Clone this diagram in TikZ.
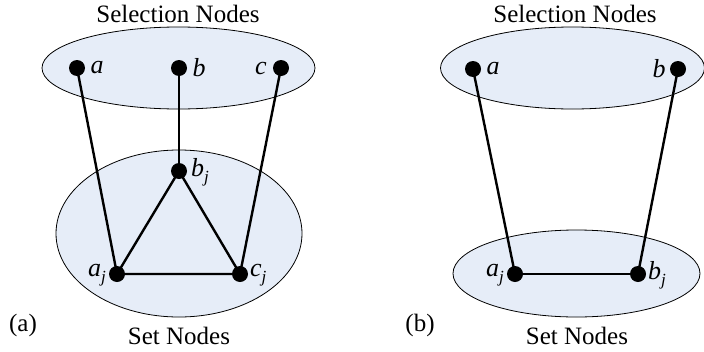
\documentclass[tikz,border=0pt]{standalone}
\usepackage{fontspec}
\setmainfont{Liberation Serif}
\definecolor{setfill}{RGB}{230,237,248}
\newcommand{\lbl}[2]{\textit{#1}\raisebox{-0.22em}{\fontsize{17}{17}\selectfont\textit{#2}}}
\begin{document}
\begin{tikzpicture}[x=1pt,y=-1pt,
  vtx/.style={circle,fill=black,inner sep=0pt,minimum size=16pt},
  edge/.style={line width=2.4pt},
  region/.style={draw=black,line width=0.8pt,fill=setfill},
  txt/.style={font=\fontsize{25}{30}\selectfont,inner sep=0pt},
  lab/.style={font=\fontsize{26}{30}\selectfont,inner sep=0pt}]
\useasboundingbox (0,0) rectangle (704,351);
% panel (a)
\draw[region] (178.5,68) ellipse [x radius=136.5, y radius=41];
\draw[region] (179,233.5) ellipse [x radius=123, y radius=83.5];
\node[txt] (t1) at (178,14) {Selection Nodes};
\node[txt] (s1) at (179,336) {Set Nodes};
\node[txt] (pa) at (23,325) {(a)};
\node[vtx] (a) at (77,68) {};
\node[vtx] (b) at (179,68) {};
\node[vtx] (c) at (281,68) {};
\node[vtx] (bj) at (179,171) {};
\node[vtx] (aj) at (117,274) {};
\node[vtx] (cj) at (240,274) {};
\node[lab] at (97,68) {\textit{a}};
\node[lab] at (199,68) {\textit{b}};
\node[lab] at (261,68) {\textit{c}};
\node[lab,anchor=west] at (191,172) {\lbl{b}{j}};
\node[lab,anchor=east] at (106,275) {\lbl{a}{j}};
\node[lab,anchor=west] at (250,275) {\lbl{c}{j}};
\draw[edge] (a.center) -- (aj.center);
\draw[edge] (b.center) -- (bj.center);
\draw[edge] (c.center) -- (cj.center);
\draw[edge] (bj.center) -- (aj.center) -- (cj.center) -- (bj.center);
% panel (b)
\draw[region] (572.5,68) ellipse [x radius=132, y radius=41];
\draw[region] (576.5,273.5) ellipse [x radius=123.5, y radius=43.5];
\node[txt] (t2) at (575,14) {Selection Nodes};
\node[txt] (s2) at (577,336) {Set Nodes};
\node[txt] (pb) at (420,325) {(b)};
\node[vtx] (a2) at (473,69) {};
\node[vtx] (b2) at (678,69) {};
\node[vtx] (aj2) at (515,274) {};
\node[vtx] (bj2) at (638,274) {};
\node[lab] at (493,69) {\textit{a}};
\node[lab] at (659,69) {\textit{b}};
\node[lab,anchor=east] at (504,275) {\lbl{a}{j}};
\node[lab,anchor=west] at (648,275) {\lbl{b}{j}};
\draw[edge] (a2.center) -- (aj2.center);
\draw[edge] (b2.center) -- (bj2.center);
\draw[edge] (aj2.center) -- (bj2.center);
\end{tikzpicture}
\end{document}
